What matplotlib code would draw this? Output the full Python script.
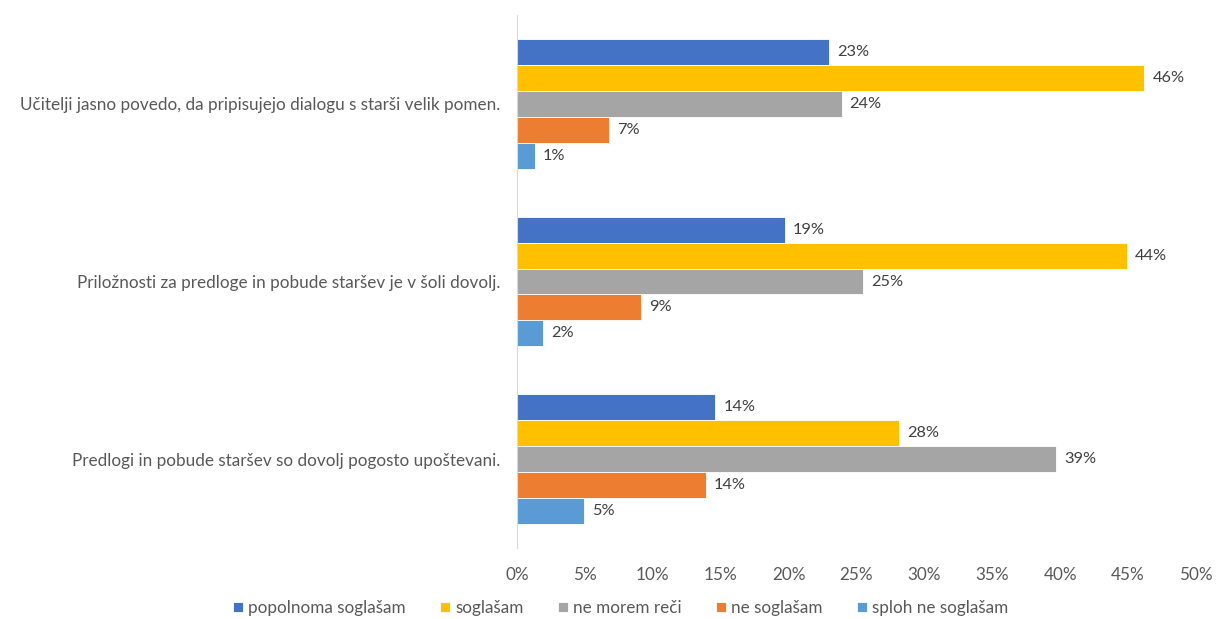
import numpy as np
import matplotlib
matplotlib.use('Agg')
import matplotlib.pyplot as plt

plt.rcParams['font.family'] = ['Lato', 'DejaVu Sans']

statements = ['Učitelji jasno povedo, da pripisujejo dialogu s starši velik pomen.',
              'Priložnosti za predloge in pobude staršev je v šoli dovolj.',
              'Predlogi in pobude staršev so dovolj pogosto upoštevani.']
series = ['popolnoma soglašam', 'soglašam', 'ne morem reči', 'ne soglašam', 'sploh ne soglašam']
colors = ['#4472C4', '#FFC000', '#A5A5A5', '#ED7D31', '#5B9BD5']

# values per series (one per statement)
popolnoma = [0.230, 0.197, 0.146]
soglasam = [0.462, 0.449, 0.281]
ne_morem = [0.239, 0.255, 0.397]
ne_soglasam = [0.068, 0.091, 0.139]
sploh_ne = [0.013, 0.019, 0.049]
labels = [['23%', '19%', '14%'],
          ['46%', '44%', '28%'],
          ['24%', '25%', '39%'],
          ['7%', '9%', '14%'],
          ['1%', '2%', '5%']]
values = [popolnoma, soglasam, ne_morem, ne_soglasam, sploh_ne]

fig = plt.figure(figsize=(12.22, 6.19), dpi=100)
ax = fig.add_axes([517/1222, 1-548/619, (1196-517)/1222, (548-15)/619])

y = np.arange(len(statements))
h = 0.146
txt = '#404040'
for i, (vals, lab, c) in enumerate(zip(values, labels, colors)):
    pos = y - 2*h + i*h
    ax.barh(pos, vals, height=h, color=c, label=series[i], edgecolor='white', linewidth=0.6)
    for p, v, l in zip(pos, vals, lab):
        ax.text(v + 0.006, p, l, va='center', ha='left', fontsize=11.8, color=txt)

ax.set_xlim(0, 0.5)
ax.set_ylim(2.5, -0.5)
ax.set_xticks(np.arange(0, 0.51, 0.05))
ax.set_xticklabels([f'{int(round(t*100))}%' for t in np.arange(0, 0.51, 0.05)])
ax.set_yticks(y)
ax.set_yticklabels(statements)
ax.tick_params(axis='both', length=0, labelsize=12.3, labelcolor='#595959')
ax.tick_params(axis='x', pad=14)
ax.tick_params(axis='y', pad=12)
for s in ['top', 'right', 'bottom']:
    ax.spines[s].set_visible(False)
ax.spines['left'].set_color('#D9D9D9')

fig.legend(loc='lower center', bbox_to_anchor=(0.508, -0.02), ncol=5, frameon=False,
           fontsize=12.3, handlelength=0.6, handleheight=0.6, handletextpad=0.3,
           columnspacing=2.0, labelcolor='#595959')

fig.savefig('out.png', dpi=100)
